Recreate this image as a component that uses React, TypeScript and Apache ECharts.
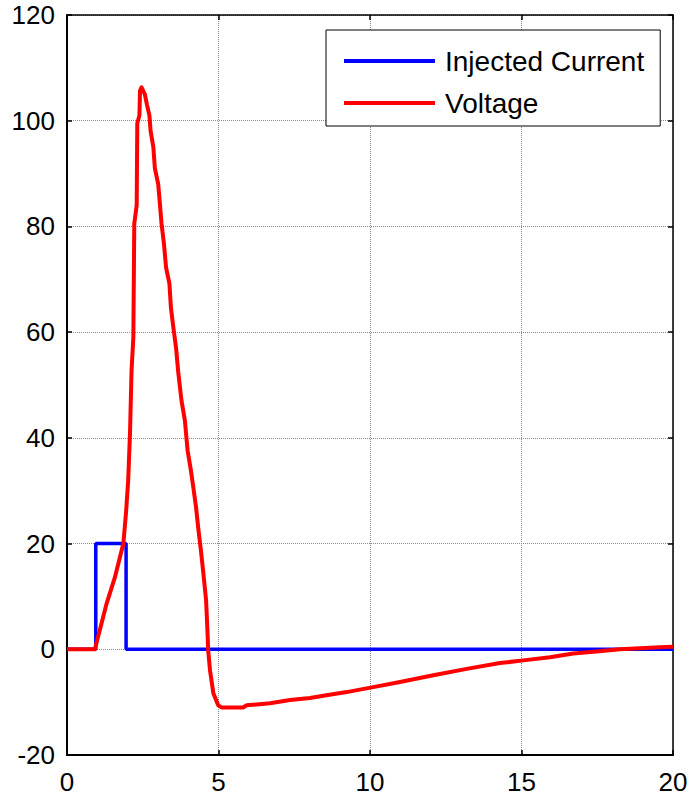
import React, { useEffect, useRef } from "react";
import * as echarts from "echarts";

const seriesNames = ["Injected Current", "Voltage"];

const currentT = [0, 0.95, 0.95, 1.95, 1.95, 20];
const currentV = [0, 0, 20, 20, 0, 0];

const voltageT = [
  0, 0.92, 1.31, 1.58, 1.86, 1.95, 2.02, 2.08, 2.13, 2.19, 2.22, 2.3, 2.32, 2.39, 2.41, 2.46,
  2.57, 2.64, 2.72, 2.76, 2.85, 2.9, 3.01, 3.07, 3.12, 3.2, 3.27, 3.38, 3.43, 3.51, 3.6, 3.67,
  3.78, 3.89, 3.98, 4.09, 4.17, 4.26, 4.33, 4.42, 4.5, 4.59, 4.63, 4.66, 4.72, 4.83, 4.99, 5.1,
  5.81, 5.93, 6.7, 7.36, 8.02, 8.46, 9.23, 10.06, 10.99, 12.09, 13.19, 14.29, 15.06, 15.94,
  16.71, 17.48, 18.25, 19.57, 20,
];
const voltageV = [
  0, 0, 8.7, 13.6, 20, 26, 32, 41, 52.7, 59, 80.5, 84, 99.5, 101, 105.7, 106.3,
  105, 103, 101, 98, 95, 91, 88, 84, 80.5, 76.7, 72.2, 69.2, 64.6, 60.9, 57, 52.5,
  47, 43.3, 37.6, 33.8, 30.6, 26.8, 23, 18.7, 14.4, 9.3, 4.2, -0.2, -4, -8.3, -10.6, -11,
  -11, -10.6, -10.2, -9.6, -9.2, -8.8, -8.1, -7.2, -6.2, -4.9, -3.7, -2.6, -2.1, -1.5,
  -0.8, -0.4, 0, 0.4, 0.5,
];

const xMin = 0, xMax = 20, xStep = 5;
const yMin = -20, yMax = 120, yStep = 20;

const FONT = "'Liberation Sans', Arial, sans-serif";

export default function App() {
  const ref = useRef<HTMLDivElement>(null);
  useEffect(() => {
    if (!ref.current) return;
    const chart = echarts.init(ref.current, null, { renderer: "svg" });
    const tick = { show: true, inside: true, length: 5, lineStyle: { color: "#000", width: 1.5 } };
    const grid = { show: true, lineStyle: { color: "#8a8a8a", type: "dotted" as const, width: 1 } };
    chart.setOption({
      animation: false,
      backgroundColor: "#fff",
      grid: { left: 67, right: 21, top: 15, bottom: 41, containLabel: false },
      legend: {
        data: seriesNames,
        orient: "vertical",
        left: 326,
        top: 30,
        backgroundColor: "#fff",
        borderColor: "#000",
        borderWidth: 1,
        borderRadius: 0,
        padding: [16, 16, 8, 18],
        itemGap: 12,
        itemWidth: 91,
        itemHeight: 4,
        icon: "rect",
        textStyle: { fontFamily: FONT, fontSize: 28, color: "#000", lineHeight: 30, padding: [0, 0, 0, 5] },
      },
      xAxis: [
        {
          type: "value",
          min: xMin,
          max: xMax,
          interval: xStep,
          axisLine: { show: true, onZero: false, lineStyle: { color: "#000", width: 2 } },
          axisTick: tick,
          axisLabel: { fontFamily: FONT, fontSize: 26, color: "#000", margin: 14 },
          splitLine: grid,
        },
        {
          type: "value",
          position: "top",
          min: xMin,
          max: xMax,
          interval: xStep,
          axisLine: { show: true, onZero: false, lineStyle: { color: "#000", width: 1.5 } },
          axisTick: tick,
          axisLabel: { show: false },
          splitLine: { show: false },
        },
      ],
      yAxis: [
        {
          type: "value",
          min: yMin,
          max: yMax,
          interval: yStep,
          axisLine: { show: true, onZero: false, lineStyle: { color: "#000", width: 2 } },
          axisTick: tick,
          axisLabel: { fontFamily: FONT, fontSize: 26, color: "#000", margin: 12 },
          splitLine: grid,
        },
        {
          type: "value",
          position: "right",
          min: yMin,
          max: yMax,
          interval: yStep,
          axisLine: { show: true, onZero: false, lineStyle: { color: "#000", width: 1.5 } },
          axisTick: tick,
          axisLabel: { show: false },
          splitLine: { show: false },
        },
      ],
      series: [
        {
          name: seriesNames[0],
          type: "line",
          xAxisIndex: 0,
          yAxisIndex: 0,
          data: currentT.map((t, i) => [t, currentV[i]]),
          showSymbol: false,
          symbol: "none",
          lineStyle: { color: "#0000ff", width: 3.5 },
          itemStyle: { color: "#0000ff" },
          clip: false,
        },
        {
          name: seriesNames[1],
          type: "line",
          xAxisIndex: 0,
          yAxisIndex: 0,
          data: voltageT.map((t, i) => [t, voltageV[i]]),
          showSymbol: false,
          symbol: "none",
          lineStyle: { color: "#ff0000", width: 4, join: "round" },
          itemStyle: { color: "#ff0000" },
          clip: false,
        },
      ],
    });
    return () => chart.dispose();
  }, []);
  return (
    <div
      ref={ref}
      style={{ position: "fixed", left: 0, top: 0, width: 694, height: 796, background: "#fff" }}
    />
  );
}
